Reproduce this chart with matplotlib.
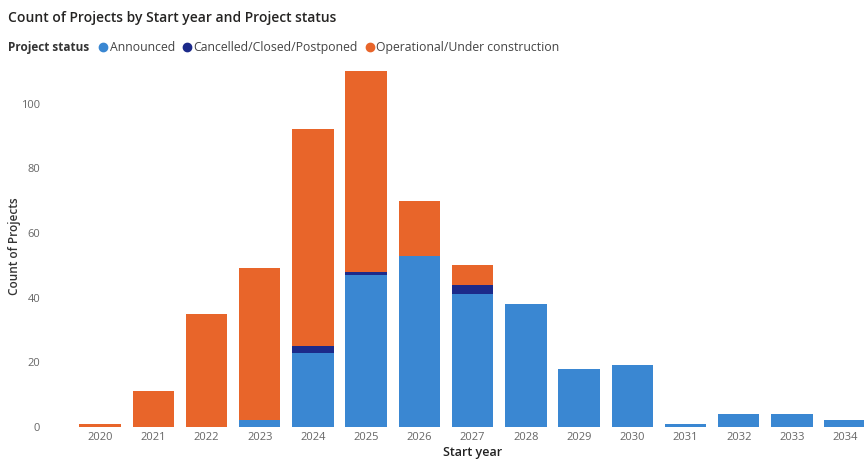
import numpy as np
import matplotlib.pyplot as plt
from matplotlib.lines import Line2D

# project counts per start year, split by status
years = ['2020', '2021', '2022', '2023', '2024', '2025', '2026', '2027',
         '2028', '2029', '2030', '2031', '2032', '2033', '2034']
announced = [0, 0, 0, 2, 23, 47, 53, 41, 38, 18, 19, 1, 4, 4, 2]
cancelled = [0, 0, 0, 0, 2, 1, 0, 3, 0, 0, 0, 0, 0, 0, 0]
operational = [1, 11, 35, 47, 67, 62, 17, 6, 0, 0, 0, 0, 0, 0, 0]

statuses = ['Announced', 'Cancelled/Closed/Postponed', 'Operational/Under construction']
colors = ['#3A87D2', '#1C2A8A', '#E8652A']

plt.rcParams['font.family'] = ['Open Sans', 'DejaVu Sans']

fig = plt.figure(figsize=(8.64, 4.63), dpi=100)
ax = fig.add_axes([0.085, 0.078, 0.924, 0.782])

x = np.arange(len(years))
w = 0.78
bottom = np.zeros(len(years))
for vals, c in zip([announced, cancelled, operational], colors):
    ax.bar(x, vals, w, bottom=bottom, color=c, zorder=2)
    bottom += np.array(vals)

ax.set_xlim(-0.5, len(years) - 0.5)
ax.set_ylim(0, 112)
ax.set_yticks([0, 20, 40, 60, 80, 100])
ax.set_xticks(x)
ax.set_xticklabels(years)
ax.tick_params(length=0, colors='#666666', labelsize=8)
ax.tick_params(axis='y', pad=24)
for s in ax.spines.values():
    s.set_visible(False)

ax.set_ylabel('Count of Projects', fontsize=8.5, color='#333333', fontweight='semibold', labelpad=0)
ax.set_xlabel('Start year', fontsize=9, color='#222222', fontweight='semibold', labelpad=2)

# title and legend row
fig.text(0.009, 0.962, 'Count of Projects by Start year and Project status',
         fontsize=10, color='#252423', fontweight='semibold', va='center')
fig.text(0.009, 0.897, 'Project status', fontsize=8.5, fontweight='bold',
         color='#333333', va='center')
handles = [Line2D([], [], marker='o', ls='', color=c, markersize=6) for c in colors]
fig.legend(handles, statuses, loc='center left', bbox_to_anchor=(0.107, 0.897),
           ncol=3, frameon=False, fontsize=8.8, handletextpad=0.0,
           columnspacing=0.5, borderaxespad=0, handlelength=1.0,
           labelcolor='#444444')

fig.savefig('out.png', dpi=100, facecolor='white')
